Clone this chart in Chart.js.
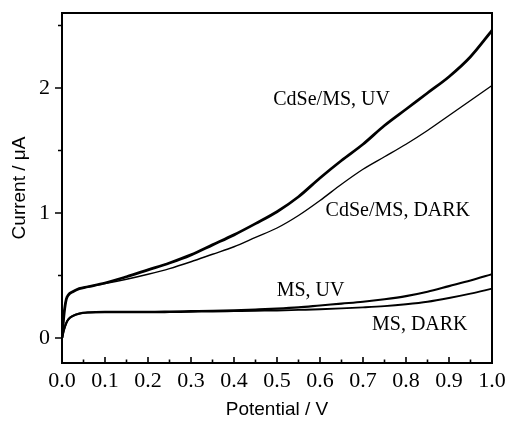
<!DOCTYPE html>
<html>
<head>
<meta charset="utf-8">
<script src="https://cdn.jsdelivr.net/npm/chart.js@4"></script>
<style>
  html, body { margin: 0; padding: 0; background: #fff; }
  #wrap { width: 508px; height: 421px; }
</style>
</head>
<body>
<div id="wrap"><canvas id="grafico" width="508" height="421"></canvas></div>
<script>
// potential (V) and current (uA)
const potencial = [0, 0.005, 0.01, 0.015, 0.025, 0.04, 0.06, 0.1, 0.15, 0.2, 0.25, 0.3, 0.35, 0.4, 0.45, 0.5, 0.55, 0.6, 0.65, 0.7, 0.75, 0.8, 0.85, 0.9, 0.95, 1.0];
const cdseUV   = [0, 0.2, 0.31, 0.345, 0.37, 0.395, 0.41, 0.44, 0.49, 0.545, 0.6, 0.665, 0.745, 0.825, 0.915, 1.01, 1.13, 1.28, 1.42, 1.55, 1.70, 1.83, 1.96, 2.09, 2.25, 2.46];
const cdseDark = [0, 0.2, 0.31, 0.345, 0.37, 0.395, 0.41, 0.435, 0.47, 0.51, 0.555, 0.61, 0.67, 0.73, 0.805, 0.88, 0.98, 1.10, 1.23, 1.35, 1.45, 1.55, 1.66, 1.78, 1.90, 2.02];
const msUV     = [0, 0.07, 0.12, 0.15, 0.176, 0.195, 0.205, 0.21, 0.21, 0.21, 0.212, 0.215, 0.218, 0.222, 0.228, 0.235, 0.245, 0.26, 0.275, 0.29, 0.31, 0.335, 0.37, 0.415, 0.46, 0.51];
const msDark   = [0, 0.07, 0.12, 0.15, 0.176, 0.195, 0.203, 0.205, 0.205, 0.205, 0.207, 0.21, 0.212, 0.215, 0.218, 0.22, 0.225, 0.23, 0.237, 0.245, 0.255, 0.27, 0.29, 0.32, 0.355, 0.395];

const xTicks = [0, 0.1, 0.2, 0.3, 0.4, 0.5, 0.6, 0.7, 0.8, 0.9, 1.0];
const xMinor = [0.05, 0.15, 0.25, 0.35, 0.45, 0.55, 0.65, 0.75, 0.85, 0.95];
const yTicks = [0, 1, 2];
const yMinor = [0.5, 1.5, 2.5];

// label texts and where they sit, in data units
const rotulos = ["CdSe/MS, UV", "CdSe/MS, DARK", "MS, UV", "MS, DARK"];
const rotuloX = [0.627, 0.781, 0.578, 0.832];
const rotuloY = [1.91, 1.02, 0.38, 0.11];

const serif = "'Liberation Serif', 'Times New Roman', serif";
const sans = "'Liberation Sans', Arial, sans-serif";

function serie(ys) {
  return potencial.map((x, i) => ({ x: x, y: ys[i] }));
}

// frame, tick marks and text labels
const moldura = {
  id: "moldura",
  afterDraw(chart) {
    const ctx = chart.ctx;
    const a = chart.chartArea;
    const sx = chart.scales.x;
    const sy = chart.scales.y;
    ctx.save();
    ctx.strokeStyle = "#000";
    ctx.lineWidth = 2;
    ctx.strokeRect(a.left, a.top, a.right - a.left, a.bottom - a.top);
    ctx.lineWidth = 1.6;
    ctx.beginPath();
    xTicks.forEach((v) => {
      const px = sx.getPixelForValue(v);
      ctx.moveTo(px, a.bottom);
      ctx.lineTo(px, a.bottom - 6);
    });
    xMinor.forEach((v) => {
      const px = sx.getPixelForValue(v);
      ctx.moveTo(px, a.bottom);
      ctx.lineTo(px, a.bottom - 3.5);
    });
    yTicks.forEach((v) => {
      const py = sy.getPixelForValue(v);
      ctx.moveTo(a.left, py);
      ctx.lineTo(a.left - 7, py);
    });
    yMinor.forEach((v) => {
      const py = sy.getPixelForValue(v);
      ctx.moveTo(a.left, py);
      ctx.lineTo(a.left - 4, py);
    });
    ctx.stroke();

    ctx.fillStyle = "#000";
    ctx.font = "20px " + serif;
    ctx.textAlign = "center";
    ctx.textBaseline = "middle";
    rotulos.forEach((t, i) => {
      ctx.fillText(t, sx.getPixelForValue(rotuloX[i]), sy.getPixelForValue(rotuloY[i]));
    });
    ctx.restore();
  },
};

new Chart(document.getElementById("grafico").getContext("2d"), {
  type: "line",
  data: {
    datasets: [
      { label: "CdSe/MS, UV", data: serie(cdseUV), borderColor: "#000", borderWidth: 2.8 },
      { label: "CdSe/MS, DARK", data: serie(cdseDark), borderColor: "#000", borderWidth: 1.4 },
      { label: "MS, UV", data: serie(msUV), borderColor: "#000", borderWidth: 2.1 },
      { label: "MS, DARK", data: serie(msDark), borderColor: "#000", borderWidth: 1.9 },
    ],
  },
  options: {
    responsive: false,
    animation: false,
    parsing: false,
    elements: {
      point: { radius: 0 },
      line: { cubicInterpolationMode: "monotone", fill: false },
    },
    layout: { padding: { left: 0, right: 16, top: 13, bottom: 0 } },
    plugins: { legend: { display: false }, tooltip: { enabled: false } },
    scales: {
      x: {
        type: "linear",
        min: 0,
        max: 1,
        grid: { display: false, tickLength: 0 },
        border: { display: false },
        afterBuildTicks: (s) => { s.ticks = xTicks.map((v) => ({ value: v })); },
        afterFit: (s) => { s.height = 58; s.paddingLeft = 0; s.paddingRight = 0; },
        ticks: {
          padding: 5,
          color: "#000",
          font: { family: serif, size: 22 },
          maxRotation: 0,
          autoSkip: false,
          callback: (v) => Number(v).toFixed(1),
        },
        title: {
          display: true,
          text: "Potential / V",
          color: "#000",
          font: { family: sans, size: 19 },
          padding: { top: 0, bottom: 0 },
        },
      },
      y: {
        type: "linear",
        min: -0.2,
        max: 2.6,
        grid: { display: false, tickLength: 0 },
        border: { display: false },
        afterBuildTicks: (s) => { s.ticks = yTicks.map((v) => ({ value: v })); },
        afterFit: (s) => { s.width = 62; s.paddingTop = 0; s.paddingBottom = 0; },
        ticks: {
          padding: 12,
          color: "#000",
          font: { family: serif, size: 22 },
          autoSkip: false,
          callback: (v) => String(v),
        },
        title: {
          display: true,
          text: "Current / μA",
          color: "#000",
          font: { family: sans, size: 19 },
          padding: { top: 8, bottom: 0 },
        },
      },
    },
  },
  plugins: [moldura],
});
</script>
</body>
</html>
